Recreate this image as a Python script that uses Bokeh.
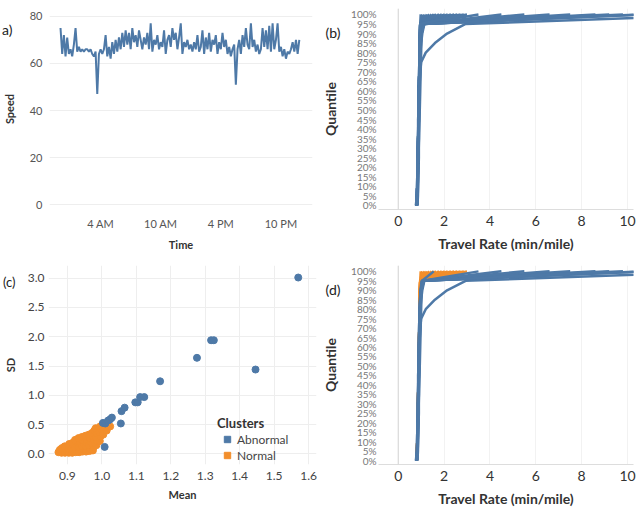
from bokeh.plotting import figure
from bokeh.layouts import column, row
from bokeh.models import FixedTicker, Legend, LegendItem, Span, NumeralTickFormatter, LinearAxis
from bokeh.embed import file_html
from bokeh.resources import INLINE

BLUE = "#4e79a7"
ORANGE = "#f28e2b"
FONT = "Lato"

# ---------------- (a) speed over one day (10-minute steps) ----------------
time_hours = [h / 6 for h in range(144)]
speed = [
    75, 64, 72, 63, 71, 64,
    66, 63, 68, 75, 65, 67,
    65, 66, 65, 66, 66, 65,
    66, 64, 63, 65, 47, 64,
    66, 64, 66, 72, 63, 67,
    62, 69, 64, 70, 65, 71,
    66, 73, 67, 74, 68, 73,
    66, 75, 69, 72, 67, 74,
    70, 66, 71, 68, 73, 66,
    77, 65, 70, 68, 72, 66,
    69, 67, 74, 64, 70, 72,
    67, 75, 70, 73, 66, 71,
    77, 64, 69, 67, 70, 66,
    68, 65, 69, 66, 72, 65,
    67, 74, 64, 71, 66, 73,
    65, 70, 68, 72, 64, 69,
    66, 73, 67, 70, 64, 67,
    63, 66, 68, 51, 66, 70,
    64, 72, 67, 75, 68, 66,
    77, 67, 70, 65, 68, 64,
    66, 75, 67, 74, 66, 76,
    65, 77, 66, 70, 77, 65,
    67, 63, 66, 62, 65, 64,
    66, 69, 65, 70, 64, 70,
]
time_ticks = [4, 10, 16, 22]
time_tick_labels = ["4 AM", "10 AM", "4 PM", "10 PM"]
speed_ticks = [0, 20, 40, 60, 80]

# ---------------- (b)/(d) travel-rate quantile curves ----------------
quantile = [0, 5, 10, 15, 20, 25, 30, 35, 40, 45, 50, 55, 60, 65, 70, 75, 80, 85, 90, 95, 100]
quantile_tick_labels = ["0%", "5%", "10%", "15%", "20%", "25%", "30%", "35%", "40%", "45%", "50%",
                        "55%", "60%", "65%", "70%", "75%", "80%", "85%", "90%", "95%", "100%"]
rate_ticks = [0, 2, 4, 6, 8, 10]

abnormal_curves = [
    [0.80, 0.82, 0.83, 0.84, 0.85, 0.86, 0.87, 0.88, 0.89, 0.90, 0.91, 0.92, 0.93, 0.94, 0.96, 1.00, 1.20, 1.60, 2.13, 2.94, 14.5],
    [0.78, 0.81, 0.82, 0.83, 0.84, 0.85, 0.85, 0.86, 0.87, 0.87, 0.88, 0.89, 0.89, 0.90, 0.91, 0.92, 0.93, 0.95, 0.97, 1.02, 11.0],
    [0.82, 0.84, 0.85, 0.86, 0.87, 0.88, 0.88, 0.89, 0.90, 0.90, 0.91, 0.92, 0.92, 0.93, 0.94, 0.95, 0.96, 0.98, 1.01, 1.08, 8.6],
    [0.79, 0.82, 0.83, 0.84, 0.85, 0.86, 0.86, 0.87, 0.88, 0.88, 0.89, 0.90, 0.90, 0.91, 0.92, 0.93, 0.94, 0.96, 0.99, 1.05, 7.5],
    [0.81, 0.83, 0.84, 0.85, 0.86, 0.87, 0.87, 0.88, 0.89, 0.89, 0.90, 0.91, 0.91, 0.92, 0.93, 0.94, 0.95, 0.97, 1.00, 1.10, 6.6],
    [0.80, 0.82, 0.83, 0.84, 0.85, 0.85, 0.86, 0.87, 0.87, 0.88, 0.89, 0.89, 0.90, 0.91, 0.92, 0.93, 0.94, 0.96, 0.98, 1.04, 5.5],
    [0.83, 0.85, 0.86, 0.87, 0.88, 0.88, 0.89, 0.90, 0.90, 0.91, 0.92, 0.92, 0.93, 0.94, 0.95, 0.96, 0.97, 0.99, 1.02, 1.12, 4.5],
    [0.77, 0.81, 0.82, 0.83, 0.84, 0.85, 0.85, 0.86, 0.87, 0.87, 0.88, 0.89, 0.89, 0.90, 0.91, 0.92, 0.93, 0.95, 0.98, 1.06, 3.5],
    [0.82, 0.84, 0.85, 0.86, 0.87, 0.87, 0.88, 0.89, 0.89, 0.90, 0.91, 0.91, 0.92, 0.93, 0.94, 0.95, 0.96, 0.98, 1.00, 1.04, 1.55],
    [0.81, 0.83, 0.84, 0.85, 0.86, 0.87, 0.88, 0.88, 0.89, 0.90, 0.90, 0.91, 0.92, 0.93, 0.94, 0.95, 0.97, 1.00, 1.05, 1.14, 9.8],
    [0.80, 0.83, 0.84, 0.85, 0.85, 0.86, 0.87, 0.87, 0.88, 0.89, 0.89, 0.90, 0.91, 0.92, 0.93, 0.94, 0.95, 0.97, 1.01, 1.08, 10.6],
    [0.84, 0.86, 0.87, 0.88, 0.89, 0.90, 0.90, 0.91, 0.92, 0.93, 0.94, 0.95, 0.96, 0.97, 0.98, 0.99, 1.00, 1.01, 1.02, 1.12, 9.2],
]
normal_curves = [
    [0.80, 0.82, 0.83, 0.84, 0.85, 0.86, 0.87, 0.87, 0.88, 0.89, 0.89, 0.90, 0.91, 0.91, 0.92, 0.93, 0.94, 0.94, 0.95, 0.96, 0.98],
    [0.81, 0.82, 0.84, 0.85, 0.85, 0.86, 0.87, 0.88, 0.88, 0.89, 0.90, 0.90, 0.91, 0.92, 0.92, 0.93, 0.94, 0.95, 0.95, 0.96, 1.05],
    [0.80, 0.83, 0.83, 0.84, 0.86, 0.86, 0.87, 0.88, 0.89, 0.89, 0.90, 0.91, 0.91, 0.92, 0.93, 0.93, 0.94, 0.94, 0.95, 0.97, 1.15],
    [0.81, 0.82, 0.83, 0.85, 0.85, 0.87, 0.87, 0.88, 0.88, 0.89, 0.90, 0.90, 0.91, 0.92, 0.92, 0.93, 0.94, 0.95, 0.96, 0.97, 1.25],
    [0.80, 0.82, 0.83, 0.84, 0.85, 0.86, 0.86, 0.87, 0.88, 0.88, 0.89, 0.90, 0.90, 0.91, 0.92, 0.92, 0.93, 0.94, 0.95, 0.96, 1.35],
    [0.81, 0.83, 0.84, 0.84, 0.85, 0.86, 0.87, 0.88, 0.88, 0.89, 0.90, 0.91, 0.91, 0.92, 0.93, 0.94, 0.94, 0.95, 0.96, 0.98, 1.45],
    [0.80, 0.82, 0.83, 0.84, 0.85, 0.85, 0.86, 0.87, 0.88, 0.88, 0.89, 0.90, 0.91, 0.91, 0.92, 0.93, 0.93, 0.94, 0.95, 0.96, 1.55],
    [0.82, 0.83, 0.84, 0.85, 0.86, 0.87, 0.87, 0.88, 0.89, 0.89, 0.90, 0.91, 0.91, 0.92, 0.93, 0.93, 0.94, 0.95, 0.96, 0.98, 1.65],
    [0.80, 0.82, 0.83, 0.84, 0.84, 0.85, 0.86, 0.87, 0.88, 0.88, 0.89, 0.90, 0.90, 0.91, 0.92, 0.92, 0.93, 0.94, 0.95, 0.96, 1.78],
    [0.81, 0.82, 0.84, 0.84, 0.85, 0.86, 0.87, 0.87, 0.88, 0.89, 0.90, 0.90, 0.91, 0.92, 0.92, 0.93, 0.94, 0.95, 0.95, 0.97, 1.90],
    [0.80, 0.83, 0.83, 0.85, 0.85, 0.86, 0.87, 0.88, 0.88, 0.89, 0.89, 0.90, 0.91, 0.91, 0.92, 0.93, 0.94, 0.94, 0.95, 0.96, 2.03],
    [0.81, 0.82, 0.83, 0.84, 0.86, 0.86, 0.87, 0.88, 0.89, 0.89, 0.90, 0.91, 0.91, 0.92, 0.93, 0.93, 0.94, 0.95, 0.96, 0.97, 2.16],
    [0.80, 0.82, 0.83, 0.84, 0.85, 0.86, 0.86, 0.87, 0.88, 0.89, 0.89, 0.90, 0.91, 0.92, 0.92, 0.93, 0.94, 0.94, 0.95, 0.96, 2.30],
    [0.82, 0.83, 0.84, 0.85, 0.85, 0.86, 0.87, 0.88, 0.88, 0.89, 0.90, 0.90, 0.91, 0.92, 0.93, 0.93, 0.94, 0.95, 0.96, 0.97, 2.44],
    [0.80, 0.82, 0.83, 0.84, 0.85, 0.86, 0.87, 0.87, 0.88, 0.89, 0.89, 0.90, 0.91, 0.91, 0.92, 0.93, 0.93, 0.94, 0.95, 0.96, 2.58],
    [0.81, 0.83, 0.84, 0.85, 0.86, 0.86, 0.87, 0.88, 0.89, 0.89, 0.90, 0.91, 0.91, 0.92, 0.93, 0.94, 0.94, 0.95, 0.96, 0.98, 2.72],
    [0.80, 0.82, 0.83, 0.84, 0.85, 0.85, 0.86, 0.87, 0.88, 0.88, 0.89, 0.90, 0.90, 0.91, 0.92, 0.93, 0.93, 0.94, 0.95, 0.96, 2.86],
    [0.81, 0.82, 0.83, 0.84, 0.85, 0.86, 0.87, 0.88, 0.88, 0.89, 0.90, 0.90, 0.91, 0.92, 0.92, 0.93, 0.94, 0.94, 0.95, 0.95, 3.00],
]

# ---------------- (c) mean vs SD by cluster ----------------
abnormal_mean = [1.003, 1.010, 1.018, 1.024, 1.029, 1.008, 1.055, 1.057, 1.066, 1.097, 1.104,
                 1.111, 1.123, 1.169, 1.276, 1.317, 1.325, 1.446, 1.570]
abnormal_sd = [0.53, 0.52, 0.57, 0.59, 0.62, 0.12, 0.52, 0.73, 0.79, 0.88, 0.88,
               0.97, 0.97, 1.24, 1.64, 1.94, 1.94, 1.44, 3.01]
normal_mean = [
    0.874, 0.878,
    0.883, 0.887, 0.884,
    0.893, 0.897, 0.895, 0.892,
    0.904, 0.906, 0.903, 0.907, 0.905,
    0.914, 0.916, 0.913, 0.917, 0.915,
    0.924, 0.926, 0.923, 0.927, 0.925, 0.922,
    0.934, 0.936, 0.933, 0.937, 0.935, 0.932,
    0.944, 0.946, 0.943, 0.947, 0.945, 0.942,
    0.954, 0.956, 0.953, 0.957, 0.955, 0.952,
    0.964, 0.966, 0.963, 0.967, 0.965, 0.962,
    0.974, 0.976, 0.973, 0.977, 0.975, 0.972, 0.978,
    0.984, 0.986, 0.983, 0.987, 0.985, 0.982,
    0.994, 0.996, 0.993, 0.997, 0.995,
    1.004, 1.006, 1.003,
    1.014, 1.016,
    1.024,
]
normal_sd = [
    0.03, 0.07,
    0.02, 0.06, 0.10,
    0.02, 0.05, 0.09, 0.13,
    0.02, 0.05, 0.09, 0.13, 0.17,
    0.02, 0.06, 0.10, 0.14, 0.19,
    0.03, 0.07, 0.11, 0.16, 0.21, 0.24,
    0.03, 0.07, 0.12, 0.17, 0.22, 0.27,
    0.04, 0.08, 0.13, 0.18, 0.23, 0.29,
    0.04, 0.09, 0.14, 0.19, 0.25, 0.31,
    0.05, 0.10, 0.15, 0.21, 0.27, 0.33,
    0.06, 0.12, 0.18, 0.24, 0.30, 0.36, 0.40,
    0.15, 0.22, 0.28, 0.35, 0.41, 0.44,
    0.22, 0.30, 0.37, 0.43, 0.47,
    0.33, 0.40, 0.46,
    0.40, 0.47,
    0.47,
]
mean_ticks = [0.9, 1.0, 1.1, 1.2, 1.3, 1.4, 1.5, 1.6]
sd_ticks = [0.0, 0.5, 1.0, 1.5, 2.0, 2.5, 3.0]
cluster_names = ["Abnormal", "Normal"]
panel_tags = ["a)", "(b)", "(c)", "(d)"]


def base_style(p, lab_size="11px", lab_color="#555555", title_size="11px"):
    p.background_fill_color = "white"
    p.border_fill_color = "white"
    p.outline_line_color = None
    for ax in (p.xaxis, p.yaxis):
        ax.axis_line_color = None
        ax.major_tick_line_color = None
        ax.minor_tick_line_color = None
        ax.major_tick_out = 0
        ax.major_tick_in = 0
        ax.minor_tick_out = 0
        ax.minor_tick_in = 0
        ax.major_label_text_font = FONT
        ax.major_label_text_font_size = lab_size
        ax.major_label_text_color = lab_color
        ax.axis_label_text_font = FONT
        ax.axis_label_text_font_style = "bold"
        ax.axis_label_text_font_size = title_size
        ax.axis_label_text_color = "#333333"


def tag_axis(p, where, text, font_size, standoff, title, title_size, title_standoff):
    """Outer left axis: its single tick label is the panel tag, its label is the y title."""
    ax = LinearAxis(ticker=FixedTicker(ticks=[where]),
                    major_label_overrides={where: text},
                    axis_line_color=None, major_tick_line_color=None, minor_tick_line_color=None,
                    major_tick_out=0, major_tick_in=0, minor_tick_out=0, minor_tick_in=0,
                    major_label_standoff=standoff,
                    major_label_text_font=FONT, major_label_text_font_size=font_size,
                    major_label_text_color="#222222",
                    axis_label=title, axis_label_standoff=title_standoff,
                    axis_label_text_font=FONT, axis_label_text_font_style="bold",
                    axis_label_text_font_size=title_size, axis_label_text_color="#333333")
    p.add_layout(ax, "left")


# ---------------- panel (a) ----------------
pa = figure(width=318, height=255, x_range=(-1.1, 25.15), y_range=(-2, 83.3),
            output_backend="svg", toolbar_location=None,
            min_border_left=45, min_border_right=6, min_border_top=8, min_border_bottom=40)
base_style(pa)
pa.line(time_hours, speed, line_color=BLUE, line_width=2)
pa.xaxis.ticker = FixedTicker(ticks=time_ticks)
pa.xaxis.major_label_overrides = dict(zip(time_ticks, time_tick_labels))
pa.yaxis.ticker = FixedTicker(ticks=speed_ticks)
pa.xgrid.grid_line_color = None
pa.ygrid.grid_line_color = "#eeeeee"
pa.xaxis.axis_label = "Time"
pa.xaxis.major_label_standoff = 7
pa.xaxis.axis_label_standoff = 5
pa.yaxis.major_label_standoff = 7
tag_axis(pa, 74.2, panel_tags[0], "14px", 14, "Speed", "11px", -17)


def quantile_panel(height, bottom, curves_groups, tag_text):
    p = figure(width=320, height=height, x_range=(-0.86, 10.26), y_range=(-2.1, 103.1),
               output_backend="svg", toolbar_location=None,
               min_border_left=57, min_border_right=5, min_border_top=8, min_border_bottom=bottom)
    base_style(p, lab_size="14px", lab_color="#333333", title_size="14px")
    p.yaxis.major_label_text_font_size = "10px"
    p.yaxis.major_label_text_color = "#777777"
    p.xaxis.ticker = FixedTicker(ticks=rate_ticks)
    p.yaxis.ticker = FixedTicker(ticks=quantile)
    p.yaxis.major_label_overrides = dict(zip(quantile, quantile_tick_labels))
    p.xgrid.grid_line_color = "#f2f2f2"
    p.ygrid.grid_line_color = None
    p.xaxis.axis_line_color = "#dddddd"
    p.add_layout(Span(location=0, dimension="height", line_color="#d4d4d4", line_width=1))
    for curves, color in curves_groups:
        p.multi_line(xs=curves, ys=[quantile] * len(curves), line_color=color, line_width=2.5)
    p.xaxis.axis_label = "Travel Rate (min/mile)"
    p.xaxis.major_label_standoff = 6
    p.xaxis.axis_label_standoff = 6
    p.yaxis.major_label_standoff = 2
    tag_axis(p, 90.5, tag_text, "14px", 8, "Quantile", "14px", -16)
    return p


pb = quantile_panel(255, 46, [(abnormal_curves + normal_curves, BLUE)], panel_tags[1])

# ---------------- panel (c) ----------------
pc = figure(width=318, height=260, x_range=(0.845, 1.623), y_range=(-0.18, 3.215),
            output_backend="svg", toolbar_location=None,
            min_border_left=45, min_border_right=2, min_border_top=10, min_border_bottom=45)
base_style(pc, lab_size="12px", lab_color="#444444", title_size="11px")
pc.xaxis.ticker = FixedTicker(ticks=mean_ticks)
pc.yaxis.ticker = FixedTicker(ticks=sd_ticks)
pc.xaxis.formatter = NumeralTickFormatter(format="0.0")
pc.yaxis.formatter = NumeralTickFormatter(format="0.0")
pc.xgrid.grid_line_color = "#eeeeee"
pc.ygrid.grid_line_color = "#eeeeee"
pc.scatter(normal_mean, normal_sd, size=7, color=ORANGE)
pc.scatter(abnormal_mean, abnormal_sd, size=7, color=BLUE)
ra = pc.scatter(abnormal_mean, abnormal_sd, marker="square", size=0, color=BLUE)
rn = pc.scatter(normal_mean, normal_sd, marker="square", size=0, color=ORANGE)
leg = Legend(items=[LegendItem(label=cluster_names[0], renderers=[ra]),
                    LegendItem(label=cluster_names[1], renderers=[rn])],
             title="Clusters", location=(169, 1))
leg.title_text_font = FONT
leg.title_text_font_style = "bold"
leg.title_text_font_size = "13px"
leg.title_text_color = "#333333"
leg.label_text_font = FONT
leg.label_text_font_size = "12px"
leg.label_text_color = "#444444"
leg.glyph_width = 20
leg.glyph_height = 16
leg.label_height = 16
leg.label_standoff = 0
leg.spacing = -1
leg.padding = 0
leg.margin = 0
leg.title_standoff = -4
leg.border_line_color = None
leg.background_fill_alpha = 0
pc.add_layout(leg)
pc.xaxis.axis_label = "Mean"
pc.xaxis.major_label_standoff = 7
pc.xaxis.axis_label_standoff = 5
pc.yaxis.major_label_standoff = 4
tag_axis(pc, 2.93, panel_tags[2], "13px", 9, "SD", "11px", -17)

# ---------------- panel (d) ----------------
pd_ = quantile_panel(260, 51, [(normal_curves, ORANGE), (abnormal_curves, BLUE)], panel_tags[3])

layout = column(row(pa, pb), row(pc, pd_))
open("out.html", "w").write(file_html(layout, INLINE))
